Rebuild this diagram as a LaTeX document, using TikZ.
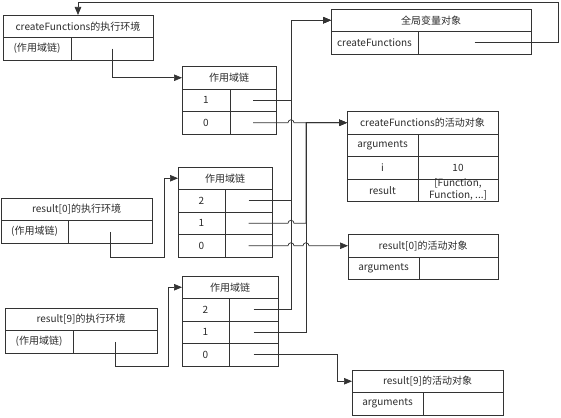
\documentclass[tikz,border=0pt]{standalone}
\usepackage{fontspec}
\setmainfont{Noto Sans CJK SC}
\usetikzlibrary{arrows.meta, positioning, calc}
\definecolor{linec}{HTML}{333333}
\definecolor{textc}{HTML}{2B2B2B}

\begin{document}
\begin{tikzpicture}[
  x=1pt, y=-1pt,
  node distance = 0pt,
  %--- style definitions ---
  hd/.style   = {rectangle, draw=linec, line width=0.7pt, minimum width=#1,
                 minimum height=22.5pt, inner sep=0pt, outer sep=0pt,
                 anchor=north west, font=\fontsize{10}{12}\selectfont, text=textc},
  cl/.style   = {rectangle, draw=linec, line width=0.7pt, minimum width=#1,
                 minimum height=22.5pt, inner sep=0pt, outer sep=0pt, align=center,
                 font=\fontsize{10}{12}\selectfont, text=textc},
  conn/.style = {draw=linec, line width=0.7pt, -{Triangle[length=8pt,width=6.5pt]}},
  hop/.style  = {insert path={arc[start angle=180, end angle=0, radius=3pt]}},
]
\useasboundingbox (0,0) rectangle (561,417);

%% ── createFunctions : EXECUTION CONTEXT ────────────────────────────────────
\node[hd=150pt] (ec1) at (3,15) {createFunctions的执行环境};
\node[cl=68pt, below=of ec1.south west, anchor=north west] (ec1k) {(作用域链)};
\node[cl=82pt, right=of ec1k] (ec1v) {};

%% ── GLOBAL VARIABLE OBJECT ─────────────────────────────────────────────────
\node[hd=200pt] (go) at (331,9) {全局变量对象};
\node[cl=87pt, below=of go.south west, anchor=north west] (gok) {createFunctions};
\node[cl=113pt, right=of gok] (gov) {};

%% ── SCOPE CHAIN 1 ──────────────────────────────────────────────────────────
\node[hd=94pt] (sc1) at (182,66.5) {作用域链};
\node[cl=48pt, below=of sc1.south west, anchor=north west] (sc1ak) {1};
\node[cl=46pt, right=of sc1ak] (sc1a) {};
\node[cl=48pt, below=of sc1ak] (sc1bk) {0};
\node[cl=46pt, right=of sc1bk] (sc1b) {};

%% ── createFunctions : ACTIVATION OBJECT ────────────────────────────────────
\node[hd=151pt] (ao1) at (347,111.5) {createFunctions的活动对象};
\node[cl=71pt, below=of ao1.south west, anchor=north west] (ao1ak) {arguments};
\node[cl=80pt, right=of ao1ak] (ao1a) {};
\node[cl=71pt, below=of ao1ak] (ao1bk) {i};
\node[cl=80pt, right=of ao1bk] (ao1b) {10};
\node[cl=71pt, below=of ao1bk] (ao1ck) {result};
\node[cl=80pt, right=of ao1ck, text height=19pt, text depth=2pt] (ao1c)
      {[Function,\\Function, ...]};

%% ── result[0] : EXECUTION CONTEXT ──────────────────────────────────────────
\node[hd=151pt] (ec2) at (1,198) {result[0]的执行环境};
\node[cl=67pt, below=of ec2.south west, anchor=north west] (ec2k) {(作用域链)};
\node[cl=84pt, right=of ec2k] (ec2v) {};

%% ── SCOPE CHAIN 2 ──────────────────────────────────────────────────────────
\node[hd=94pt] (sc2) at (178,167) {作用域链};
\node[cl=47pt, below=of sc2.south west, anchor=north west] (sc2ak) {2};
\node[cl=47pt, right=of sc2ak] (sc2a) {};
\node[cl=47pt, below=of sc2ak] (sc2bk) {1};
\node[cl=47pt, right=of sc2bk] (sc2b) {};
\node[cl=47pt, below=of sc2bk] (sc2ck) {0};
\node[cl=47pt, right=of sc2ck] (sc2c) {};

%% ── result[0] : ACTIVATION OBJECT ──────────────────────────────────────────
\node[hd=150pt] (ao2) at (348,234.5) {result[0]的活动对象};
\node[cl=71pt, below=of ao2.south west, anchor=north west] (ao2k) {arguments};
\node[cl=79pt, right=of ao2k] (ao2v) {};

%% ── result[9] : EXECUTION CONTEXT ──────────────────────────────────────────
\node[hd=152pt] (ec3) at (5,308) {result[9]的执行环境};
\node[cl=68pt, below=of ec3.south west, anchor=north west] (ec3k) {(作用域链)};
\node[cl=84pt, right=of ec3k] (ec3v) {};

%% ── SCOPE CHAIN 3 ──────────────────────────────────────────────────────────
\node[hd=96pt] (sc3) at (182,276) {作用域链};
\node[cl=47pt, below=of sc3.south west, anchor=north west] (sc3ak) {2};
\node[cl=49pt, right=of sc3ak] (sc3a) {};
\node[cl=47pt, below=of sc3ak] (sc3bk) {1};
\node[cl=49pt, right=of sc3bk] (sc3b) {};
\node[cl=47pt, below=of sc3bk] (sc3ck) {0};
\node[cl=49pt, right=of sc3ck] (sc3c) {};

%% ── result[9] : ACTIVATION OBJECT ──────────────────────────────────────────
\node[hd=151pt] (ao3) at (352,370) {result[9]的活动对象};
\node[cl=71pt, below=of ao3.south west, anchor=north west] (ao3k) {arguments};
\node[cl=80pt, right=of ao3k] (ao3v) {};

%% ── ARROWS ─────────────────────────────────────────────────────────────────
\coordinate (busg) at (291,0);
\coordinate (busa) at (306,0);

% global object -> createFunctions context
\draw[conn] (gov.center) -- ++(84,0) |- ($(ec1.north)+(0,-13)$) -- (ec1.north);

% contexts -> scope chains
\draw[conn] (ec1v.center) |- (sc1.west);
\draw[conn] (ec2v.center) -- ++(0,26) -| ($(sc2.west)+(-14,0)$) -- (sc2.west);
\draw[conn] (ec3v.center) -- ++(0,25) -| ($(sc3.west)+(-14,0)$) -- (sc3.west);

% links to the global object
\draw[conn] (sc1a.center) -| (busg |- go.west) -- (go.west);
\draw[conn] (sc2a.center) -| (busg |- go.west) -- (go.west);
\draw[conn] (sc3a.center) -| (busg |- go.west) -- (go.west);

% links to the createFunctions activation object
\draw[conn] (sc1b.center) -- ($(busg |- sc1b.center)+(-3,0)$) [hop] -- (ao1.west);
\draw[conn] (sc2b.center) -- ($(busg |- sc2b.center)+(-3,0)$) [hop]
            -| (busa |- ao1.west) -- (ao1.west);
\draw[conn] (sc3b.center) -| (busa |- ao1.west) -- (ao1.west);

% own activation objects
\draw[conn] (sc2c.center) -- ($(busg |- sc2c.center)+(-3,0)$) [hop]
            -- ($(busa |- sc2c.center)+(-3,0)$) [hop] -- (ao2.west);
\draw[conn] (sc3c.center) -| ($(ao3.west)+(-15,0)$) -- (ao3.west);

\end{tikzpicture}
\end{document}
